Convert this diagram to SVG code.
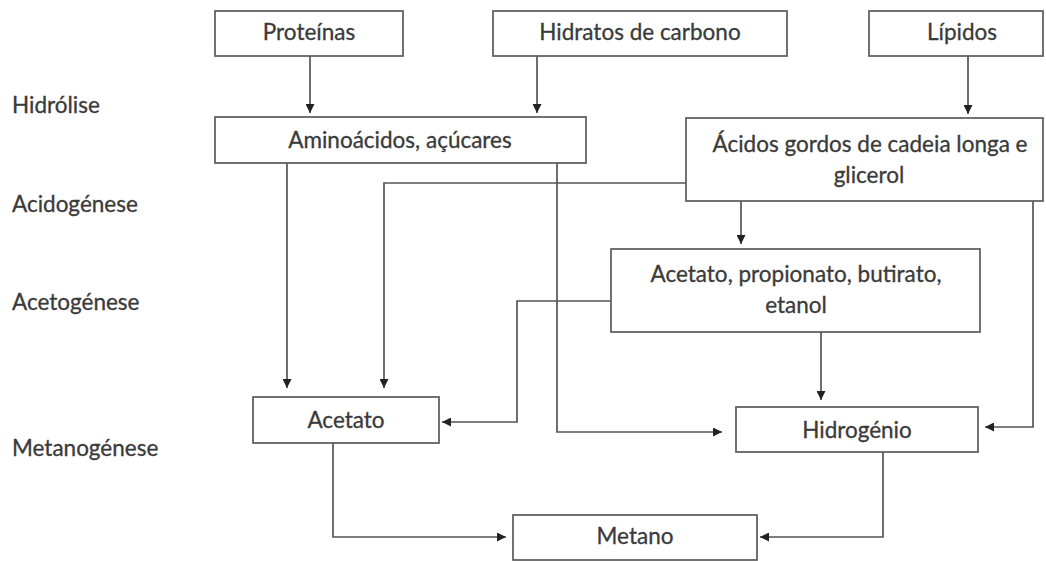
<svg xmlns="http://www.w3.org/2000/svg" width="1046" height="561" viewBox="0 0 1046 561">
<style>
.box{fill:#fff;stroke:#5a5a5a;stroke-width:1.7}
.t{font-family:Lato,"Open Sans","Liberation Sans",sans-serif;font-size:22.5px;fill:#3a3a3a;stroke:#3a3a3a;stroke-width:0.3;text-anchor:middle}
.lbl{font-family:Lato,"Open Sans","Liberation Sans",sans-serif;font-size:22.5px;fill:#3a3a3a;stroke:#3a3a3a;stroke-width:0.3}
.c{fill:none;stroke:#555;stroke-width:1.7}
</style>
<defs>
<marker id="ah" viewBox="0 0 10 10" refX="10" refY="5" markerWidth="9" markerHeight="9" markerUnits="userSpaceOnUse" orient="auto">
<path d="M0,0 L10,5 L0,10 z" fill="#222"/>
</marker>
</defs>
<rect width="1046" height="561" fill="#fff"/>
<g id="labels">
<text class="lbl" x="12" y="113">Hidrólise</text>
<text class="lbl" x="12" y="212">Acidogénese</text>
<text class="lbl" x="12" y="310">Acetogénese</text>
<text class="lbl" x="12" y="456">Metanogénese</text>
</g>
<g id="connectors">
<path class="c" d="M310 56 V113" marker-end="url(#ah)"/>
<path class="c" d="M537 56 V113" marker-end="url(#ah)"/>
<path class="c" d="M968 56 V114" marker-end="url(#ah)"/>
<path class="c" d="M287 163 V388" marker-end="url(#ah)"/>
<path class="c" d="M686 183 H384 V388" marker-end="url(#ah)"/>
<path class="c" d="M557 163 V432 H722" marker-end="url(#ah)"/>
<path class="c" d="M741 201 V244" marker-end="url(#ah)"/>
<path class="c" d="M1033 201 V427 H985" marker-end="url(#ah)"/>
<path class="c" d="M611 301 H517 V422 H442" marker-end="url(#ah)"/>
<path class="c" d="M821 332 V400" marker-end="url(#ah)"/>
<path class="c" d="M333 443 V537 H506" marker-end="url(#ah)"/>
<path class="c" d="M883 452 V537 H760" marker-end="url(#ah)"/>
</g>
<g id="proteinas">
<rect class="box" x="215" y="11" width="188" height="45"/>
<text class="t" x="309" y="40">Proteínas</text>
</g>
<g id="hidratos">
<rect class="box" x="493" y="11" width="294" height="45"/>
<text class="t" x="640" y="40">Hidratos de carbono</text>
</g>
<g id="lipidos">
<rect class="box" x="869" y="11" width="174" height="45"/>
<text class="t" x="962" y="40">Lípidos</text>
</g>
<g id="aminoacidos">
<rect class="box" x="215" y="117" width="371" height="46"/>
<text class="t" x="400" y="148">Aminoácidos, açúcares</text>
</g>
<g id="acidos">
<rect class="box" x="686" y="118" width="357" height="83"/>
<text class="t" x="870" y="152">Ácidos gordos de cadeia longa e</text>
<text class="t" x="869" y="183">glicerol</text>
</g>
<g id="acetogenese">
<rect class="box" x="611" y="249" width="369" height="83"/>
<text class="t" x="796" y="282">Acetato, propionato, butirato,</text>
<text class="t" x="796" y="313">etanol</text>
</g>
<g id="acetato">
<rect class="box" x="253" y="397" width="186" height="46"/>
<text class="t" x="346" y="428">Acetato</text>
</g>
<g id="hidrogenio">
<rect class="box" x="736" y="407" width="242" height="45"/>
<text class="t" x="857" y="438">Hidrogénio</text>
</g>
<g id="metano">
<rect class="box" x="513" y="515" width="244" height="45"/>
<text class="t" x="635" y="544">Metano</text>
</g>
</svg>
